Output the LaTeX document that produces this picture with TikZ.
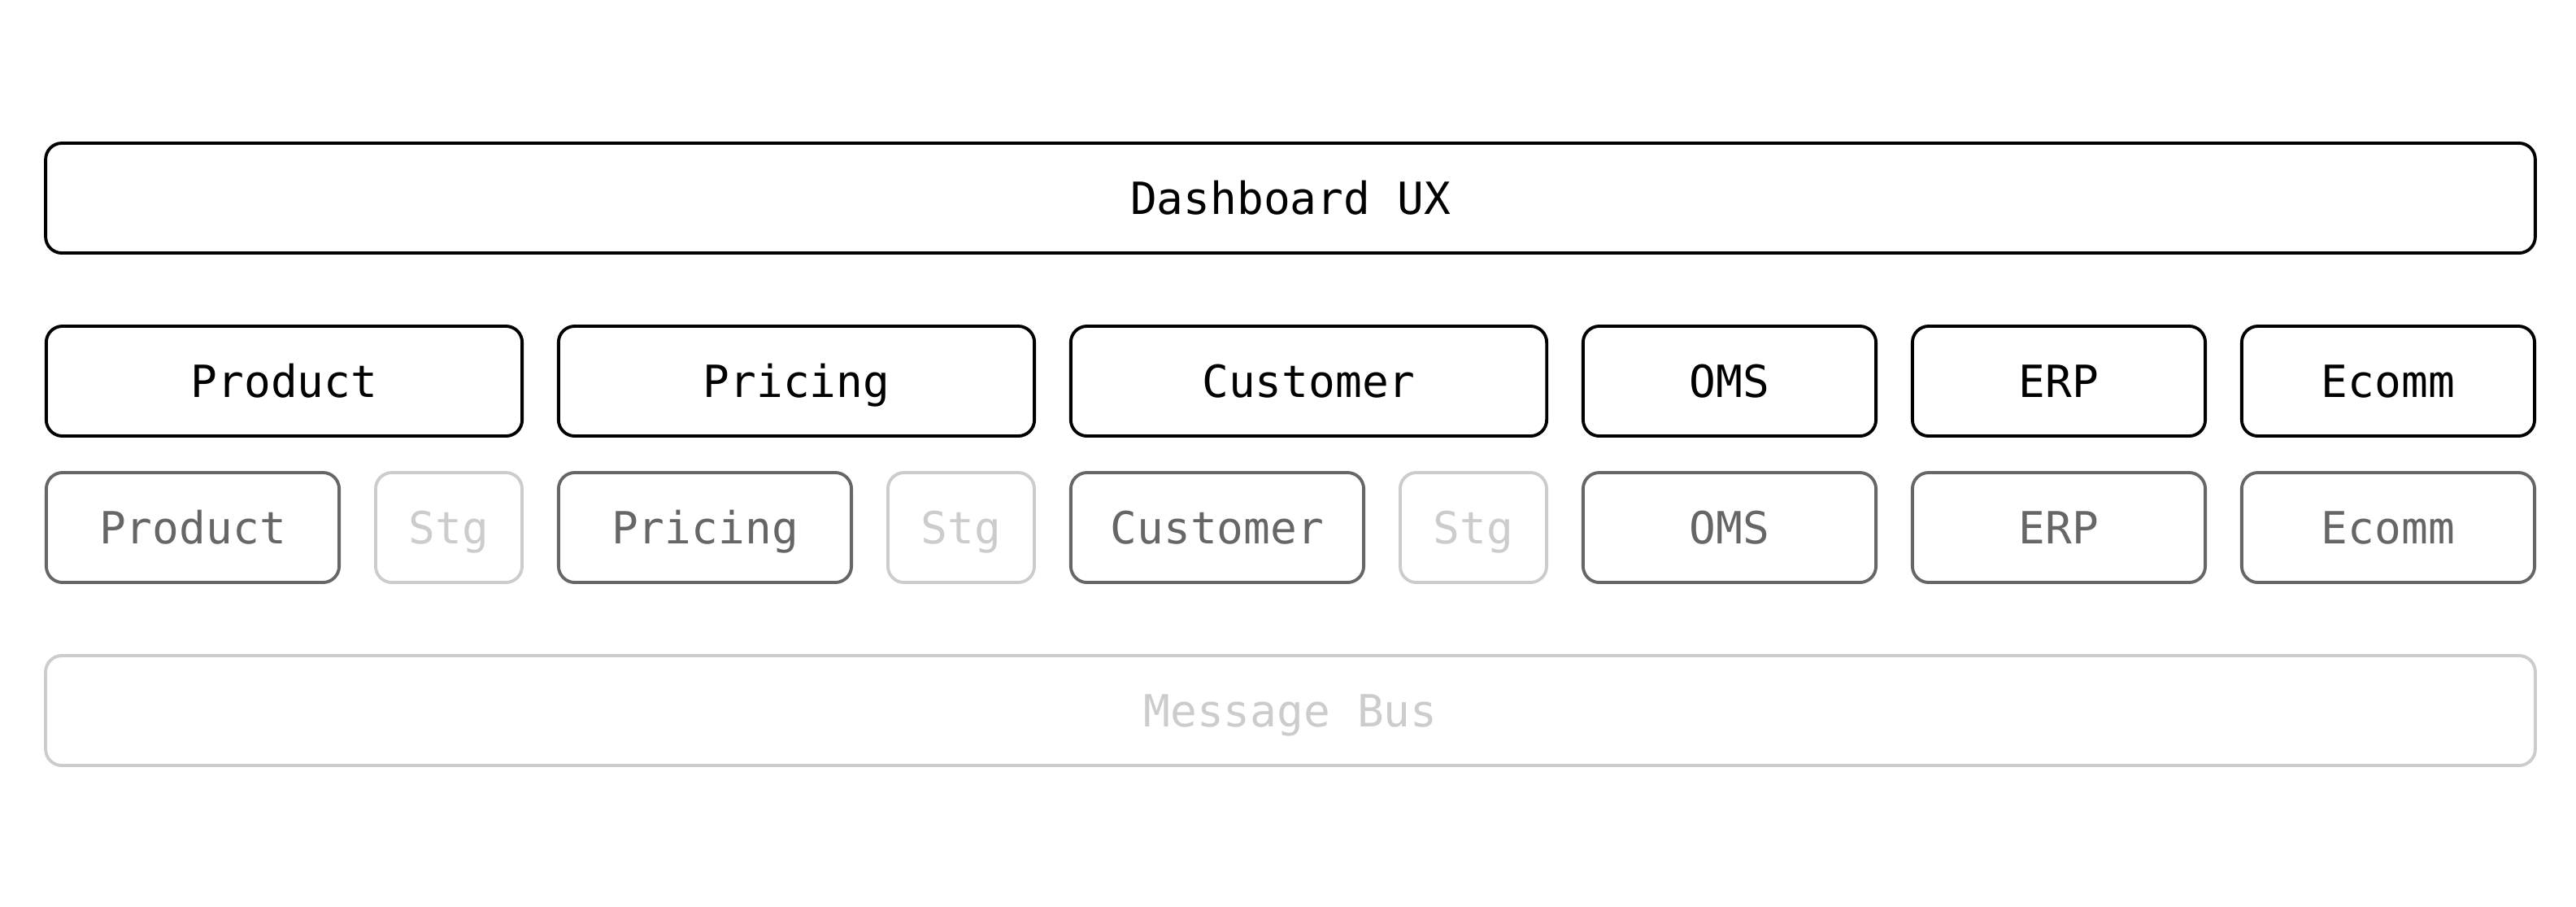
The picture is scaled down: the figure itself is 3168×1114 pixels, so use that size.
\documentclass[tikz,border=0pt]{standalone}
\usepackage{fontspec}
\newfontfamily\monofont{DejaVu Sans Mono}
\definecolor{midgray}{HTML}{666666}
\definecolor{lightgray}{HTML}{CCCCCC}
\begin{document}
\begin{tikzpicture}[x = 0.01cm, y = -0.01cm,
	box/.style = {draw, rounded corners = 0.2cm, line width = 1.1pt, minimum height = 1.35cm, inner sep = 0pt, text height = 11.3pt, text depth = 0pt, font = \monofont\fontsize{15.5pt}{18pt}\selectfont},
	wide/.style = {box, minimum width = 30.6cm},
	big/.style = {box, minimum width = 5.85cm},
	small/.style = {box, minimum width = 3.6cm},
	stg/.style = {box, minimum width = 1.8cm, draw = lightgray, text = lightgray},
	svc/.style = {draw = midgray, text = midgray}]
	\useasboundingbox (0,0) rectangle (3168,1114);
	\node[wide] (dash) at (1587,243.5) {Dashboard UX};
	\node[big] (product) at (349.5,468.5) {Product};
	\node[big] (pricing) at (979.5,468.5) {Pricing};
	\node[big] (customer) at (1609.5,468.5) {Customer};
	\node[small] (oms) at (2127,468.5) {OMS};
	\node[small] (erp) at (2532,468.5) {ERP};
	\node[small] (ecomm) at (2937,468.5) {Ecomm};
	\node[small,svc] (productsvc) at (237,648.5) {Product};
	\node[stg] (productstg) at (552,648.5) {Stg};
	\node[small,svc] (pricingsvc) at (867,648.5) {Pricing};
	\node[stg] (pricingstg) at (1182,648.5) {Stg};
	\node[small,svc] (customersvc) at (1497,648.5) {Customer};
	\node[stg] (customerstg) at (1812,648.5) {Stg};
	\node[small,svc] (omssvc) at (2127,648.5) {OMS};
	\node[small,svc] (erpsvc) at (2532,648.5) {ERP};
	\node[small,svc] (ecommsvc) at (2937,648.5) {Ecomm};
	\node[wide, draw = lightgray, text = lightgray] (bus) at (1587,873.5) {Message Bus};
\end{tikzpicture}
\end{document}
